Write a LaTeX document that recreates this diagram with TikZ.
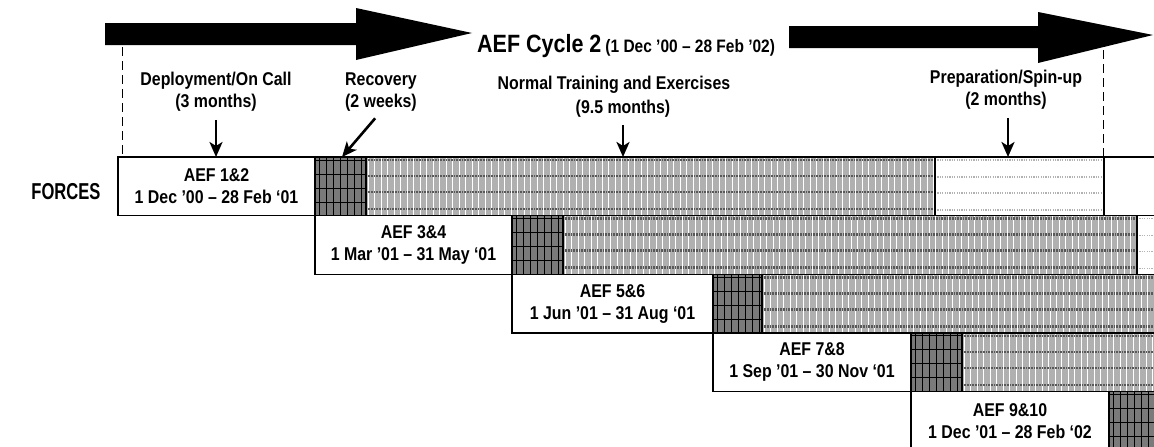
\documentclass[tikz,border=0pt]{standalone}
\usepackage{fontspec}
\newfontfamily\af{Liberation Sans}[FakeStretch=0.86]
\newfontfamily\afn{Liberation Sans}[FakeStretch=0.72]
\usetikzlibrary{arrows.meta}
\newcommand\trainbox[4]{%
  \fill[gray!62] (#1,#2) rectangle (#3,#4);
  \begin{scope}
    \clip (#1,#2) rectangle (#3,#4);
    \foreach \kk in {0,...,110} \draw[white, line width=0.8pt] ({#1+2+6.5*\kk},#2) -- ({#1+2+6.5*\kk},#4);
    \foreach \rr in {3,19,35,52} \draw[gray!70!black, line width=2.6pt, dash pattern=on 1pt off 0.6pt] (#1,{#2+\rr}) -- (#3,{#2+\rr});
  \end{scope}
  \draw[boxline] (#1,#2) rectangle (#3,#4);}
\newcommand\prepbox[4]{%
  \fill[white] (#1,#2) rectangle (#3,#4);
  \foreach \rr in {3,20,36,53} \draw[gray!60, line width=1.5pt, dash pattern=on 1.2pt off 1.2pt] (#1,{#2+\rr}) -- (#3,{#2+\rr});
  \draw[boxline] (#1,#2) rectangle (#3,#4);}
\newcommand\recbox[4]{%
  \fill[black!52] (#1,#2) rectangle (#3,#4);
  \begin{scope}
    \clip (#1,#2) rectangle (#3,#4);
    \foreach \kk in {0,...,7} \draw[black, line width=0.7pt] ({#1+4+7*\kk},#2) -- ({#1+4+7*\kk},#4);
    \foreach \kk in {0,...,4} \draw[black, line width=0.7pt] (#1,{#2+3+14*\kk}) -- (#3,{#2+3+14*\kk});
  \end{scope}
  \draw[boxline] (#1,#2) rectangle (#3,#4);}
\begin{document}
\begin{tikzpicture}[x=1pt,y=-1pt,
  boxline/.style={line width=1.4pt},
  txt/.style={font=\af\bfseries\fontsize{18.5}{22}\selectfont, align=center, inner sep=0pt},
  lblbox/.style={txt, draw, line width=1.4pt, minimum height=58.6pt},
  larrow/.style={line width=2.6pt, -{Stealth[length=15pt,width=13pt,inset=4pt]}},
  dashline/.style={line width=0.8pt, dash pattern=on 9pt off 5pt}]
\useasboundingbox (0,0) rectangle (1154,447);
\clip (0,0) rectangle (1154,447);
\fill[white] (0,0) rectangle (1154,447);
% big arrows
\fill (105,23) -- (356,23) -- (356,8) -- (472,33) -- (356,60) -- (356,45) -- (105,45) -- cycle;
\fill (789,26) -- (1038,26) -- (1038,12) -- (1153,35) -- (1038,63) -- (1038,48) -- (789,48) -- cycle;
\node[anchor=base west, inner sep=0pt, font=\af\bfseries] (title) at (477,52)
  {{\fontsize{25}{25}\selectfont AEF Cycle 2}\hspace{4pt}{\fontsize{18}{18}\selectfont (1 Dec ’00 – 28 Feb ’02)}};
% dashed lines
\coordinate (d1a) at (122,47); \coordinate (d1b) at (122,157);
\coordinate (d2a) at (1103,50); \coordinate (d2b) at (1103,157);
\draw[dashline] (d1a) -- (d1b);
\draw[dashline] (d2a) -- (d2b);
% row 1
\recbox{315}{157}{366}{215.6}
\trainbox{366}{157}{935}{215.6}
\prepbox{935}{157}{1104}{215.6}
\draw[boxline] (1104,157) rectangle (1170,215.6);
% row 2
\recbox{512}{215.6}{563}{274.2}
\trainbox{563}{215.6}{1137}{274.2}
\prepbox{1137}{215.6}{1306}{274.2}
% row 3
\recbox{713}{274.2}{762}{332.8}
\trainbox{762}{274.2}{1335}{332.8}
% row 4
\recbox{911}{332.8}{962}{391.4}
\trainbox{962}{332.8}{1530}{391.4}
% row 5
\recbox{1109}{391.4}{1160}{450}
% label boxes
\node[lblbox, minimum width=197pt] (r1) at (216.5,186.3) {AEF 1\&2\\1 Dec ’00 – 28 Feb ‘01};
\node[lblbox, minimum width=197pt] (r2) at (413.5,244.9) {AEF 3\&4\\1 Mar ’01 – 31 May ‘01};
\node[lblbox, minimum width=201pt] (r3) at (612.5,303.5) {AEF 5\&6\\1 Jun ’01 – 31 Aug ‘01};
\node[lblbox, minimum width=198pt] (r4) at (812,362.1) {AEF 7\&8\\1 Sep ’01 – 30 Nov ‘01};
\node[lblbox, minimum width=198pt] (r5) at (1010,420.7) {AEF 9\&10\\1 Dec ’01 – 28 Feb ‘02};
\node[txt, font=\afn\bfseries\fontsize{23}{23}\selectfont] (forces) at (66,192) {FORCES};
% phase labels
\node[txt] (dep) at (216,92) {Deployment/On Call\\(3 months)};
\node[txt] (rec) at (381,92) {Recovery\\(2 weeks)};
\node[txt] (nte) at (614,85) {Normal Training and Exercises};
\node[txt] (nte2) at (623,109) {(9.5 months)};
\node[txt] (prep) at (1006,90) {Preparation/Spin-up\\(2 months)};
\coordinate (depT) at (216,157);
\coordinate (recT) at (342,157);
\coordinate (nteT) at (623,157);
\coordinate (prepT) at (1008,157);
\draw[larrow, shorten <=8pt] (dep.south) -- (depT);
\draw[larrow, shorten <=9pt] (rec.south) -- (recT);
\draw[larrow, shorten <=7pt] (nte2.south) -- (nteT);
\draw[larrow, shorten <=8pt] (prep.south -| prepT) -- (prepT);
\end{tikzpicture}
\end{document}
